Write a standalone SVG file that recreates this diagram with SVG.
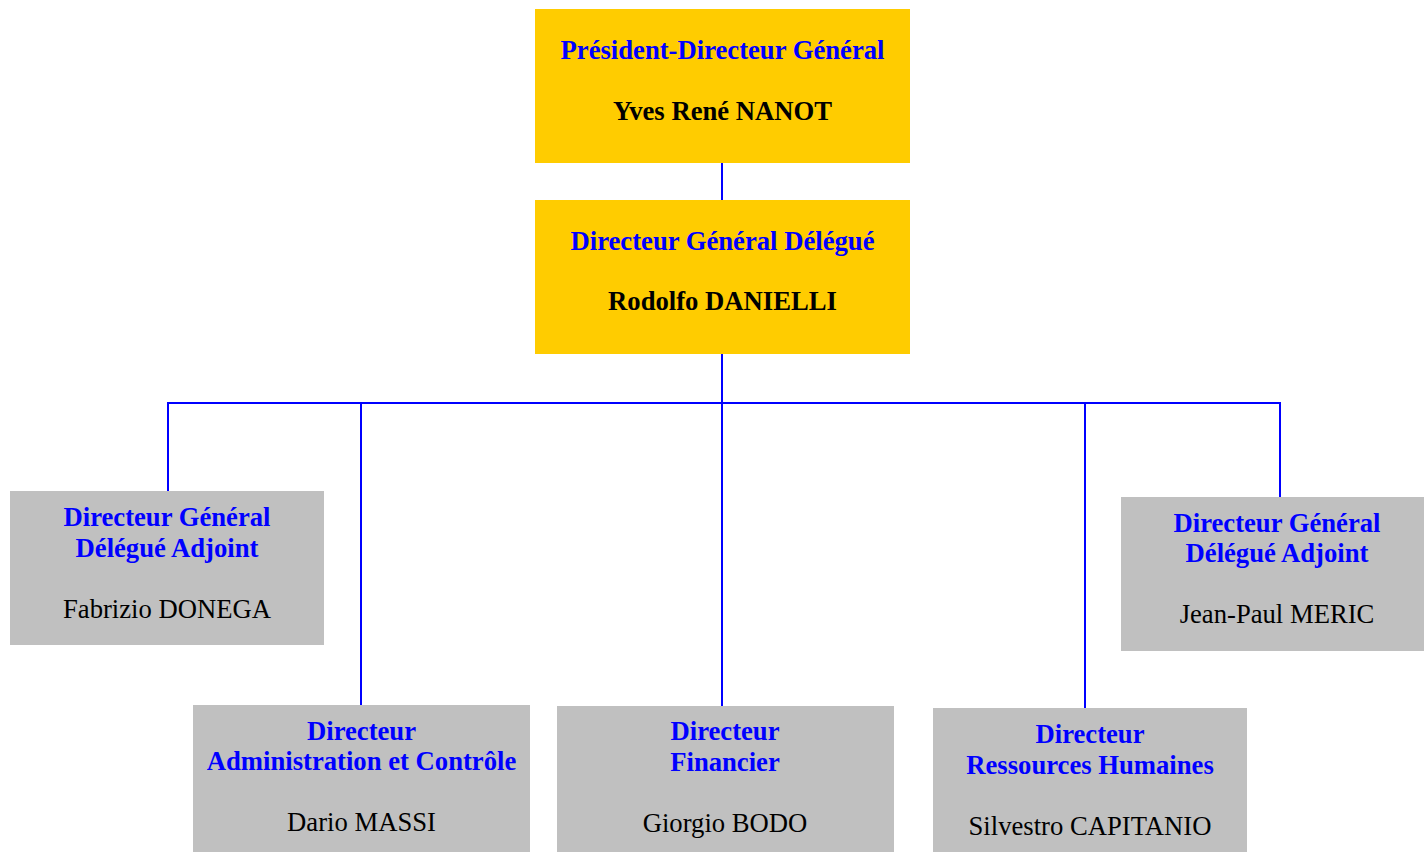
<svg xmlns="http://www.w3.org/2000/svg" width="1424" height="852" viewBox="0 0 1424 852">
<style>
.y{fill:#FFCC00}
.g{fill:#C0C0C0}
text{font-family:"Liberation Serif","Times New Roman",serif;font-size:26.67px;text-anchor:middle}
.t{fill:#0000FF;font-weight:bold}
.nb{fill:#000;font-weight:bold}
.n{fill:#000}
.c{stroke:#0000FF;stroke-width:2;fill:none}
</style>
<rect width="1424" height="852" fill="#fff"/>
<g id="connectors">
<line class="c" x1="722" y1="163" x2="722" y2="200"/>
<line class="c" x1="722" y1="354" x2="722" y2="706"/>
<polyline class="c" points="168,491 168,403 1280,403 1280,497"/>
<line class="c" x1="361" y1="403" x2="361" y2="705"/>
<line class="c" x1="1085" y1="403" x2="1085" y2="708"/>
</g>
<g id="pdg">
<rect class="y" x="535" y="9" width="375" height="154"/>
<text class="t" x="722.5" y="59">Président-Directeur Général</text>
<text class="nb" x="722.5" y="120">Yves René NANOT</text>
</g>
<g id="dgd">
<rect class="y" x="535" y="200" width="375" height="154"/>
<text class="t" x="722.5" y="250">Directeur Général Délégué</text>
<text class="nb" x="722.5" y="310">Rodolfo DANIELLI</text>
</g>
<g id="dgda1">
<rect class="g" x="10" y="491" width="314" height="154"/>
<text class="t" x="167" y="526">Directeur Général</text>
<text class="t" x="167" y="557">Délégué Adjoint</text>
<text class="n" x="167" y="618">Fabrizio DONEGA</text>
</g>
<g id="dgda2">
<rect class="g" x="1121" y="497" width="303" height="154"/>
<text class="t" x="1277" y="532">Directeur Général</text>
<text class="t" x="1277" y="562">Délégué Adjoint</text>
<text class="n" x="1277" y="623">Jean-Paul MERIC</text>
</g>
<g id="dac">
<rect class="g" x="193" y="705" width="337" height="147"/>
<text class="t" x="361.5" y="740">Directeur</text>
<text class="t" x="361.5" y="770">Administration et Contrôle</text>
<text class="n" x="361.5" y="831">Dario MASSI</text>
</g>
<g id="fin">
<rect class="g" x="557" y="706" width="337" height="146"/>
<text class="t" x="725" y="740">Directeur</text>
<text class="t" x="725" y="771">Financier</text>
<text class="n" x="725" y="832">Giorgio BODO</text>
</g>
<g id="rh">
<rect class="g" x="933" y="708" width="314" height="144"/>
<text class="t" x="1090" y="743">Directeur</text>
<text class="t" x="1090" y="774">Ressources Humaines</text>
<text class="n" x="1090" y="835">Silvestro CAPITANIO</text>
</g>
</svg>
